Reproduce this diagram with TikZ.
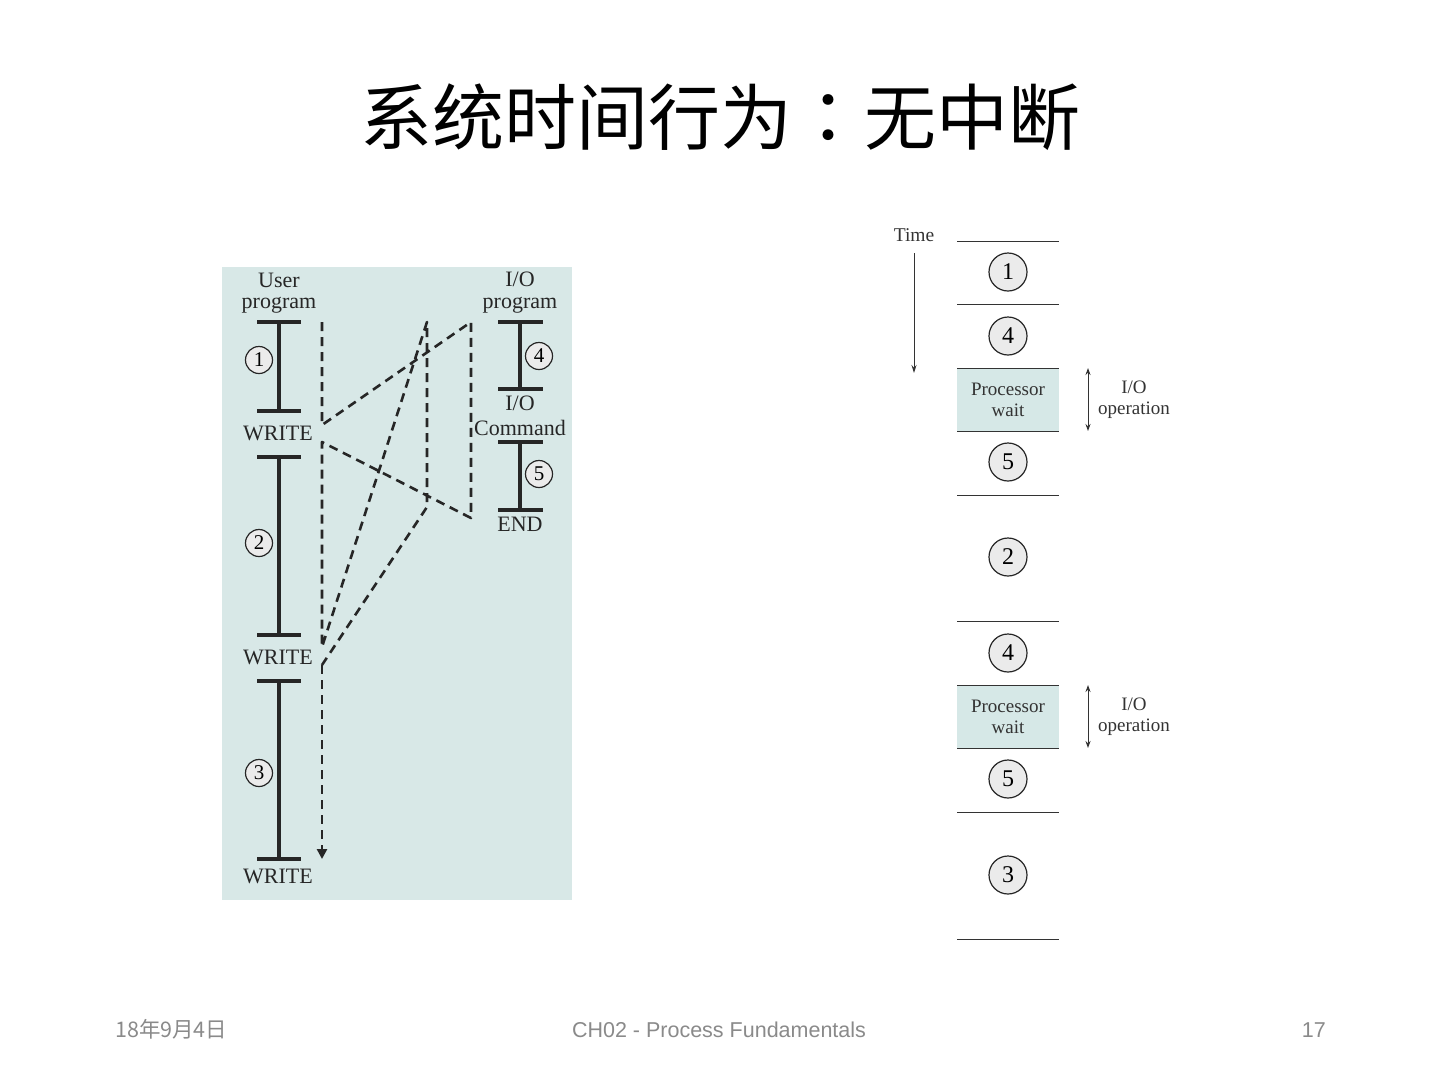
\documentclass[tikz,border=0pt]{standalone}
\usepackage{fontspec}
\setmainfont{Liberation Serif}
\newfontfamily\cjk{Noto Sans CJK SC}
\newfontfamily\cjktc{Noto Sans CJK TC}
\newfontfamily\footfont{Liberation Sans}
\usetikzlibrary{arrows.meta}
\definecolor{panel}{HTML}{D8E8E7}
\definecolor{waitfill}{HTML}{D6E8E7}
\definecolor{circfill}{HTML}{EBEBEB}
\definecolor{footgray}{HTML}{8A8A8A}
\newcommand{\fs}[1]{\fontsize{#1}{#1}\selectfont}
\tikzset{
  lbl/.style={inner sep=0pt, font=\fs{22}, text=black!85},
  lcirc/.style={circle, draw=black!85, line width=1.2pt, fill=circfill, minimum size=27pt, inner sep=0pt, font=\fs{21}},
  rcirc/.style={circle, draw=black!85, line width=1.2pt, fill=circfill, minimum size=38pt, inner sep=0pt, font=\fs{24}},
  bar/.style={line width=3.8pt, black!85},
  dashline/.style={line width=2.6pt, black!85, dash pattern=on 9pt off 6pt, line join=round},
  tline/.style={line width=1pt, black!80},
  rlbl/.style={inner sep=0pt, font=\fs{19}, text=black!80, align=center},
  foot/.style={inner sep=0pt, font=\footfont\fs{21.5}, text=footgray},
}
\begin{document}
\begin{tikzpicture}[x=1pt,y=-1pt]
\useasboundingbox (0,0) rectangle (1440,1080);
\fill[white] (0,0) rectangle (1440,1080);

% Title
\node[inner sep=0pt, font=\cjk\fs{72}] (title) at (720,117) {系统时间行为{\cjktc ：}无中断};

% Left panel
\fill[panel] (222,267) rectangle (572,900);

% User program
\node[lbl] (uuser) at (279,280) {User};
\node[lbl] (uprog) at (279,305) {program};
\coordinate (ua1) at (279,322); \coordinate (ua2) at (279,411);
\coordinate (ub1) at (279,457); \coordinate (ub2) at (279,635);
\coordinate (uc1) at (279,681); \coordinate (uc2) at (279,859);
\draw[bar] (ua1) -- (ua2);
\draw[bar] (ub1) -- (ub2);
\draw[bar] (uc1) -- (uc2);
\foreach \y in {322,411,457,635,681,859}{\draw[bar] (257,\y) -- (301,\y);}
\node[lbl] (w1) at (278,433) {WRITE};
\node[lbl] (w2) at (278,657) {WRITE};
\node[lbl] (w3) at (278,876) {WRITE};
\node[lcirc] (c1) at (259,360) {1};
\node[lcirc] (c2) at (259,543) {2};
\node[lcirc] (c3) at (259,773) {3};

% I/O program
\node[lbl] (iio) at (520,279) {I/O};
\node[lbl] (iprog) at (520,305) {program};
\coordinate (ia1) at (520,322); \coordinate (ia2) at (520,389);
\coordinate (ib1) at (520,442); \coordinate (ib2) at (520,510);
\draw[bar] (ia1) -- (ia2);
\draw[bar] (ib1) -- (ib2);
\foreach \y in {322,389,442,510}{\draw[bar] (498,\y) -- (543,\y);}
\node[lbl] (icmd1) at (520,403) {I/O};
\node[lbl] (icmd2) at (520,428) {Command};
\node[lbl] (iend) at (520,524) {END};
\node[lcirc] (c4) at (539,356) {4};
\node[lcirc] (c5) at (539,474) {5};

% Dashed flow
\coordinate (d0) at (322,322);
\coordinate (d1) at (322,425);
\coordinate (d2) at (471,322);
\coordinate (d3) at (471,518);
\coordinate (d4) at (322,442);
\coordinate (d5) at (322,647);
\coordinate (d6) at (427,322);
\coordinate (d7) at (427,507);
\coordinate (d8) at (322,665);
\coordinate (d9) at (322,859);
\draw[dashline] (d0) -- (d1) -- (d2) -- (d3) -- (d4) -- (d5) -- (d6) -- (d7) -- (d8);
\draw[dashline, -{Triangle[length=10pt,width=10pt]}] (d8) -- (d9);

% Right panel
\node[inner sep=0pt, font=\fs{19.5}, text=black!80] (time) at (914,235) {Time};
\coordinate (ta) at (914,253); \coordinate (tb) at (914,373);
\draw[line width=1pt, black!80, -{Stealth[length=8pt,width=5pt]}] (ta) -- (tb);

\fill[waitfill] (957,368) rectangle (1059,431);
\fill[waitfill] (957,685) rectangle (1059,748);
\foreach \y in {241,304,368,431,495,621,685,748,812,939}{\draw[tline] (957,\y) -- (1059,\y);}

\node[rcirc] (r1) at (1008,272) {1};
\node[rcirc] (r4a) at (1008,336) {4};
\node[rlbl] (pw1) at (1008,400) {Processor\\[2pt]wait};
\node[rcirc] (r5a) at (1008,462) {5};
\node[rcirc] (r2) at (1008,557) {2};
\node[rcirc] (r4b) at (1008,653) {4};
\node[rlbl] (pw2) at (1008,717) {Processor\\[2pt]wait};
\node[rcirc] (r5b) at (1008,779) {5};
\node[rcirc] (r3) at (1008,875) {3};

\coordinate (io1a) at (1088,368); \coordinate (io1b) at (1088,431);
\coordinate (io2a) at (1088,685); \coordinate (io2b) at (1088,748);
\draw[line width=1pt, black!80, {Stealth[length=7pt,width=5pt]}-{Stealth[length=7pt,width=5pt]}] (io1a) -- (io1b);
\draw[line width=1pt, black!80, {Stealth[length=7pt,width=5pt]}-{Stealth[length=7pt,width=5pt]}] (io2a) -- (io2b);
\node[rlbl] (op1) at (1134,400) {I/O\\[2pt]operation};
\node[rlbl] (op2) at (1134,717) {I/O\\[2pt]operation};

% Footer
\node[foot, anchor=base west] (date) at (115,1037) {\cjk 18年9月4日};
\node[foot, anchor=base] (course) at (719,1037) {CH02 - Process Fundamentals};
\node[foot, anchor=base east] (page) at (1326,1037) {17};
\end{tikzpicture}
\end{document}
